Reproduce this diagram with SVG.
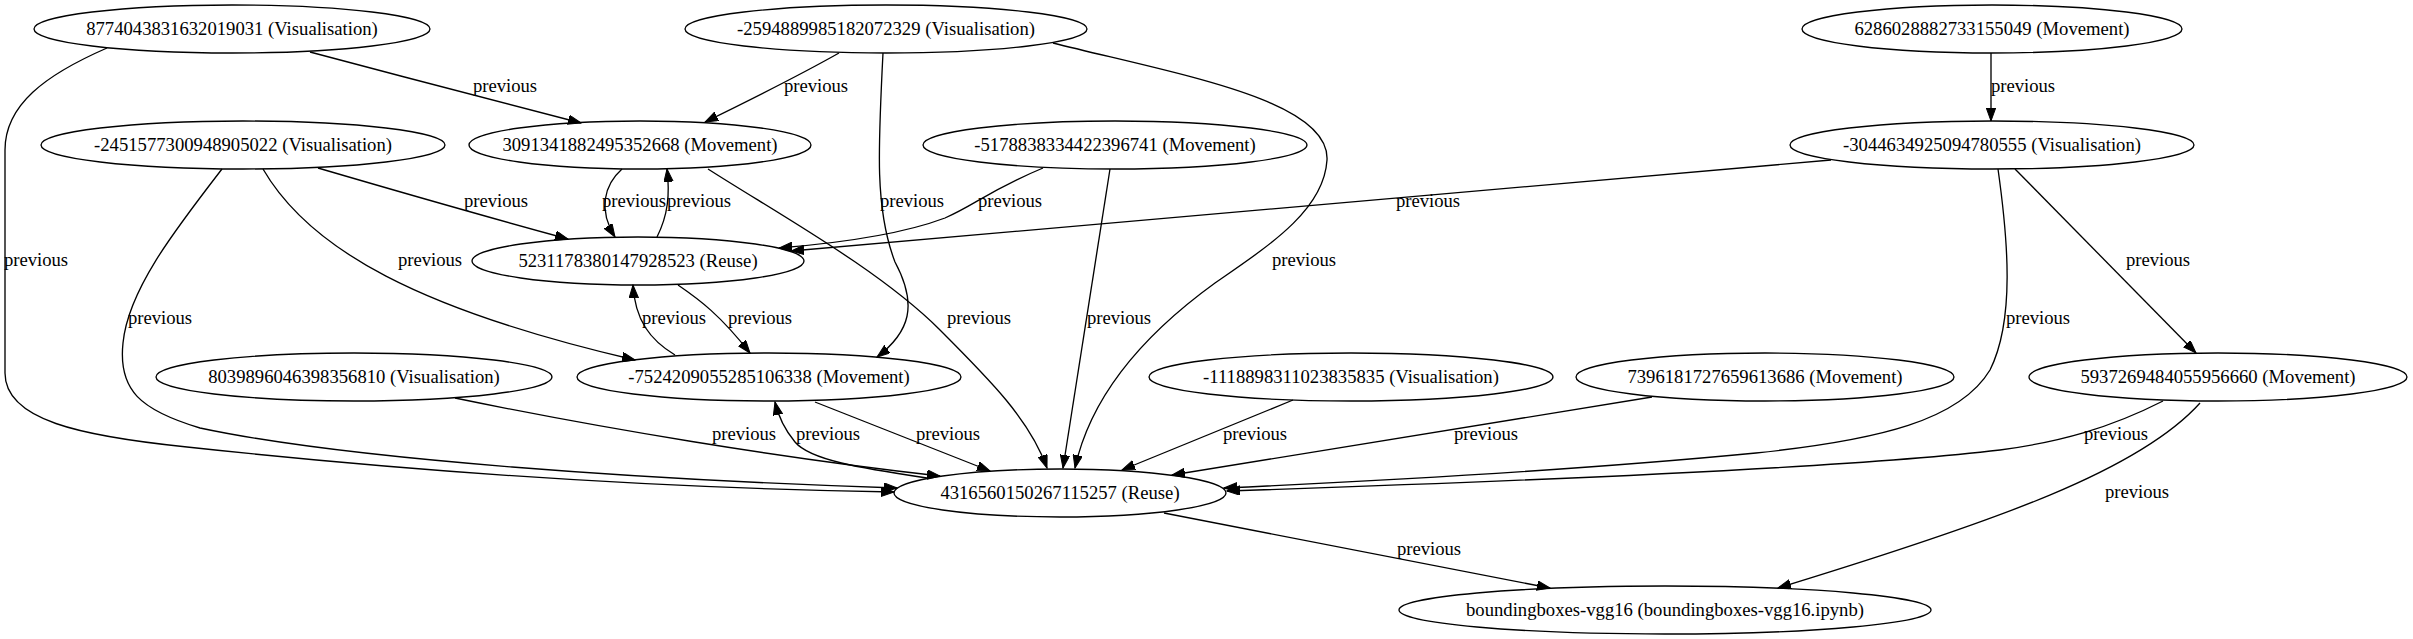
<svg xmlns="http://www.w3.org/2000/svg" width="2413" height="639" viewBox="0 0 2413 639">
<style>
.node ellipse{fill:none;stroke:#000;stroke-width:1.33}
text{font-family:"Liberation Serif","Times New Roman",serif;font-size:18.67px;text-anchor:middle;fill:#000}
.edges path{fill:none;stroke:#000;stroke-width:1.33;marker-end:url(#ah)}
</style>
<defs>
<marker id="ah" markerUnits="userSpaceOnUse" markerWidth="14" markerHeight="10" refX="13" refY="4.7" orient="auto">
<path d="M0,0 L13,4.7 L0,9.4 z" fill="#000" stroke="#000" stroke-width="1"/>
</marker>
</defs>
<rect width="2413" height="639" fill="#fff"/>
<g class="edges">
<path d="M310,52 C400,76 500,102 581,123"/>
<path d="M107,48 C45,75 5,105 5,150 L5,373 C5,420 80,436 187,447 C400,470 650,488 894,492"/>
<path d="M839,53 C800,75 750,100 705,122"/>
<path d="M883,53 C878,150 875,210 895,262 C918,305 910,332 877,357"/>
<path d="M1053,43 C1180,75 1330,100 1327,160 C1324,210 1270,245 1215,283 C1150,330 1092,390 1075,468"/>
<path d="M1991,53 L1991,121"/>
<path d="M318,168 C400,192 480,215 568,239"/>
<path d="M263,169 C310,250 420,310 635,360"/>
<path d="M222,169 C175,230 128,290 123,343 C118,390 140,410 200,428 C350,460 650,480 897,488"/>
<path d="M622,169 C604,185 598,210 615,237"/>
<path d="M657,237 C668,215 670,195 667,169"/>
<path d="M708,169 C780,215 880,270 940,330 C990,380 1030,420 1047,468"/>
<path d="M1043,168 C990,190 975,205 945,218 C900,235 840,243 779,248"/>
<path d="M1110,169 L1063,468"/>
<path d="M1831,160 L791,251"/>
<path d="M1998,169 C2008,240 2015,320 1990,370 C1960,420 1880,440 1756,453 C1600,468 1400,480 1224,488"/>
<path d="M2015,169 L2196,353"/>
<path d="M455,398 C600,428 780,458 940,476"/>
<path d="M927,478 C860,468 810,460 795,442 C785,430 778,415 775,402"/>
<path d="M815,402 L990,471"/>
<path d="M675,355 C650,340 635,320 633,285"/>
<path d="M678,285 C700,300 720,315 750,353"/>
<path d="M1293,400 L1122,470"/>
<path d="M1652,397 L1172,475"/>
<path d="M2163,401 C2110,428 2060,442 2000,450 C1850,468 1500,482 1227,491"/>
<path d="M2200,403 C2140,470 2000,520 1778,588"/>
<path d="M1164,513 L1550,588"/>
</g>
<g class="labels">
<text x="505" y="92">previous</text>
<text x="816" y="92">previous</text>
<text x="2023" y="92">previous</text>
<text x="496" y="207">previous</text>
<text x="634" y="207">previous</text>
<text x="699" y="207">previous</text>
<text x="912" y="207">previous</text>
<text x="1010" y="207">previous</text>
<text x="1428" y="207">previous</text>
<text x="36" y="266">previous</text>
<text x="430" y="266">previous</text>
<text x="1304" y="266">previous</text>
<text x="2158" y="266">previous</text>
<text x="160" y="324">previous</text>
<text x="674" y="324">previous</text>
<text x="760" y="324">previous</text>
<text x="979" y="324">previous</text>
<text x="1119" y="324">previous</text>
<text x="2038" y="324">previous</text>
<text x="744" y="440">previous</text>
<text x="828" y="440">previous</text>
<text x="948" y="440">previous</text>
<text x="1255" y="440">previous</text>
<text x="1486" y="440">previous</text>
<text x="2116" y="440">previous</text>
<text x="2137" y="498">previous</text>
<text x="1429" y="555">previous</text>
</g>
<g id="n1" class="node"><ellipse cx="232" cy="29" rx="198" ry="24"/><text x="232" y="35">8774043831632019031 (Visualisation)</text></g>
<g id="n2" class="node"><ellipse cx="886" cy="29" rx="201" ry="24"/><text x="886" y="35">-2594889985182072329 (Visualisation)</text></g>
<g id="n3" class="node"><ellipse cx="1992" cy="29" rx="190" ry="24"/><text x="1992" y="35">6286028882733155049 (Movement)</text></g>
<g id="n4" class="node"><ellipse cx="243" cy="145" rx="202" ry="24"/><text x="243" y="151">-2451577300948905022 (Visualisation)</text></g>
<g id="n5" class="node"><ellipse cx="640" cy="145" rx="171" ry="24"/><text x="640" y="151">3091341882495352668 (Movement)</text></g>
<g id="n6" class="node"><ellipse cx="1115" cy="145" rx="192" ry="24"/><text x="1115" y="151">-5178838334422396741 (Movement)</text></g>
<g id="n7" class="node"><ellipse cx="1992" cy="145" rx="202" ry="24"/><text x="1992" y="151">-3044634925094780555 (Visualisation)</text></g>
<g id="n8" class="node"><ellipse cx="638" cy="261" rx="166" ry="24"/><text x="638" y="267">5231178380147928523 (Reuse)</text></g>
<g id="n9" class="node"><ellipse cx="354" cy="377" rx="198" ry="24"/><text x="354" y="383">8039896046398356810 (Visualisation)</text></g>
<g id="n10" class="node"><ellipse cx="769" cy="377" rx="192" ry="24"/><text x="769" y="383">-7524209055285106338 (Movement)</text></g>
<g id="n11" class="node"><ellipse cx="1351" cy="377" rx="202" ry="24"/><text x="1351" y="383">-1118898311023835835 (Visualisation)</text></g>
<g id="n12" class="node"><ellipse cx="1765" cy="377" rx="189" ry="24"/><text x="1765" y="383">7396181727659613686 (Movement)</text></g>
<g id="n13" class="node"><ellipse cx="2218" cy="377" rx="189" ry="24"/><text x="2218" y="383">5937269484055956660 (Movement)</text></g>
<g id="n14" class="node"><ellipse cx="1060" cy="493" rx="166" ry="24"/><text x="1060" y="499">4316560150267115257 (Reuse)</text></g>
<g id="n15" class="node"><ellipse cx="1665" cy="610" rx="266" ry="24"/><text x="1665" y="616">boundingboxes-vgg16 (boundingboxes-vgg16.ipynb)</text></g>
</svg>
